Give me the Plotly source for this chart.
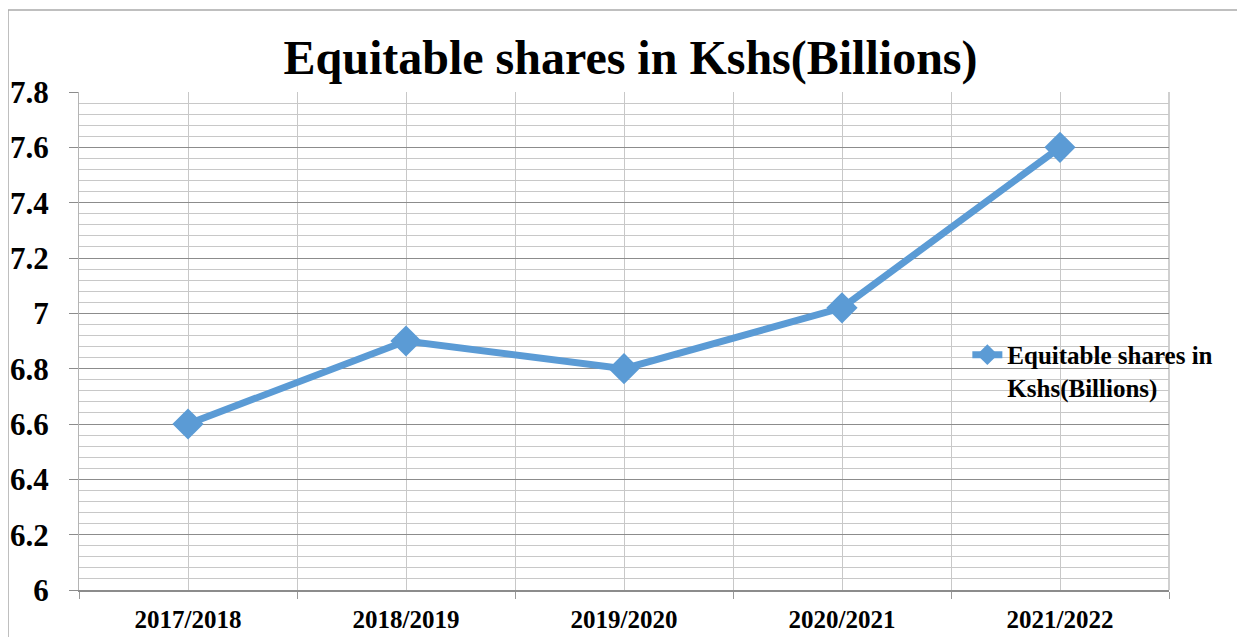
import plotly.graph_objects as go

categories = ["2017/2018", "2018/2019", "2019/2020", "2020/2021", "2021/2022"]
values = [6.6, 6.9, 6.8, 7.02, 7.6]
series_name = "<b>Equitable shares in<br>Kshs(Billions)</b>"
title_text = "Equitable shares in Kshs(Billions)"
y_ticks = [6, 6.2, 6.4, 6.6, 6.8, 7, 7.2, 7.4, 7.6, 7.8]
y_ticktext = ["6", "6.2", "6.4", "6.6", "6.8", "7", "7.2", "7.4", "7.6", "7.8"]

FONT = "Liberation Serif"
BLUE = "#5B9BD5"
xpos = list(range(len(categories)))

# page body has an 8px margin; the layout compensates for it
L, T, PW, PH = 71, 84, 1090, 498

fig = go.Figure()
fig.add_trace(go.Scatter(
    x=xpos, y=values, mode="lines+markers", name=series_name,
    line=dict(color=BLUE, width=7),
    marker=dict(symbol="diamond", size=24, color=BLUE),
    showlegend=True,
))

fig.update_layout(
    width=1245, height=637,
    margin=dict(l=L, r=1245 - L - PW, t=T, b=637 - T - PH, autoexpand=False),
    paper_bgcolor="white", plot_bgcolor="white",
    title=dict(text="<b>%s</b>" % title_text, x=0.5, xanchor="center",
               y=0.897, yanchor="bottom", yref="container", automargin=False,
               font=dict(family=FONT, size=48, color="black")),
    font=dict(family=FONT, color="black"),
    legend=dict(x=0.815, xanchor="left", y=0.44, yanchor="middle",
                bgcolor="rgba(0,0,0,0)", valign="top", tracegroupgap=0,
                font=dict(family=FONT, size=25, color="black")),
    showlegend=True,
)
fig.update_xaxes(
    range=[-0.5, len(categories) - 0.5],
    tickmode="array", tickvals=xpos,
    ticktext=["<b>%s</b>" % c for c in categories],
    tickfont=dict(family=FONT, size=25, color="black"),
    showgrid=True, gridcolor="#c8c8c8", gridwidth=1,
    ticks="", ticklen=0, automargin=False, ticklabelstandoff=6,
    minor=dict(tickmode="linear", tick0=-0.5, dtick=1, showgrid=True,
               gridcolor="#c8c8c8", gridwidth=1, ticks="outside",
               ticklen=7, tickcolor="#999999"),
    showline=True, linecolor="#8c8c8c", linewidth=1.5,
    mirror=False, zeroline=False, fixedrange=True,
)
fig.update_yaxes(
    range=[6, 7.8],
    tickmode="array", tickvals=y_ticks,
    ticktext=["<b>%s</b>" % t for t in y_ticktext],
    tickfont=dict(family=FONT, size=31, color="black"),
    showgrid=True, gridcolor="#8c8c8c", gridwidth=1,
    ticks="outside", ticklen=9, tickcolor="#8c8c8c",
    minor=dict(tickmode="linear", tick0=6, dtick=0.04, showgrid=True,
               gridcolor="#c8c8c8", gridwidth=1),
    showline=True, linecolor="#b4b4b4", linewidth=1, automargin=False,
    zeroline=False, fixedrange=True, ticklabelstandoff=14,
)
# right border of plot area
fig.add_shape(type="line", xref="paper", yref="paper", x0=1, x1=1, y0=0, y1=1,
              line=dict(color="#c0c0c0", width=1.5), layer="below")
# outer chart border (top and left edges)
bx = (0 - L) / PW
by = (T + PH - 2) / PH
fig.add_shape(type="line", xref="paper", yref="paper",
              x0=bx, x1=(1245 - L) / PW, y0=by, y1=by,
              line=dict(color="#aaaaaa", width=1.5))
fig.add_shape(type="line", xref="paper", yref="paper",
              x0=bx, x1=bx, y0=by, y1=-0.2,
              line=dict(color="#aaaaaa", width=1.5))

fig.write_html("out.html")
